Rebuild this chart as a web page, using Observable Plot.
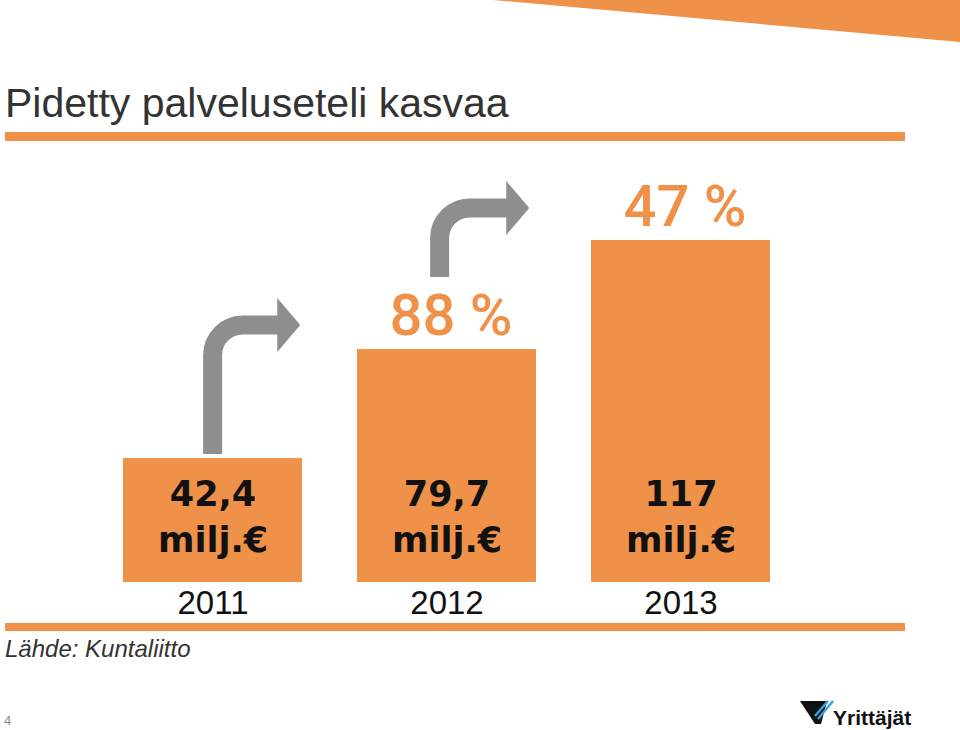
<!DOCTYPE html>
<html><head><meta charset="utf-8">
<script src="https://cdn.jsdelivr.net/npm/d3@7"></script>
<script src="https://cdn.jsdelivr.net/npm/@observablehq/plot@0.6"></script>
<style>
body{margin:0;background:#fff;}
#page{position:relative;width:960px;height:730px;overflow:hidden;}
#chart{position:absolute;left:0;top:0;}
#deco{position:absolute;left:0;top:0;}
</style></head><body>
<div id="page">
<svg id="deco" width="960" height="730" font-family="Liberation Sans, Arial, sans-serif">
  <polygon points="493,0 960,0 960,42" fill="#f0914a"/>
  <text x="5" y="117" font-size="41" fill="#333">Pidetty palveluseteli kasvaa</text>
  <rect x="5" y="132" width="900" height="9" fill="#f0914a"/>
  <rect x="5" y="623" width="900" height="8" fill="#f0914a"/>
  <text x="5" y="657" font-size="24" font-style="italic" fill="#333">Lähde: Kuntaliitto</text>
  <text x="4" y="725" font-size="13" fill="#888">4</text>
  <polygon points="800,701 827,701 821,724 815,724" fill="#111"/>
  <line x1="833" y1="701" x2="818" y2="719" stroke="#3aa0d8" stroke-width="2.5"/>
  <line x1="828" y1="701" x2="815" y2="716" stroke="#3aa0d8" stroke-width="2.5"/>
  <text x="833" y="725" font-size="21" font-weight="bold" fill="#111">Yrittäjät</text>
</svg>
<div id="chart"></div>
</div>
<script>
const years = ["2011", "2012", "2013"];
const values = [42.4, 79.7, 117];
const valueLabels = ["42,4", "79,7", "117"];
const unitLabel = "milj.€";
const growthYears = ["2012", "2013"];
const growthLabels = ["88 %", "47 %"];

const orange = "#f0914a";
const gray = "#8e8e8e";

const bars = years.map((y, i) => ({year: y, value: values[i], label: valueLabels[i] + "\n" + unitLabel}));
const growth = growthYears.map((y, i) => ({year: y, value: values[years.indexOf(y)], label: growthLabels[i]}));

const padInner = 0.234;
// arrow styling offsets (pixels) relative to bar i
const arrowStyle = [
  {dxShaft: 0, bottomOff: 4, cyOff: 133, tipOff: 2},
  {dxShaft: -7, bottomOff: 72, cyOff: 141, tipOff: 7}
];

function arrowsMark(index, scales) {
  const {x, y} = scales;
  const step = x(years[1]) - x(years[0]);
  const bw = step * (1 - padInner);
  const g = d3.create("svg:g");
  for (let i = 0; i < years.length - 1; i++) {
    const s = arrowStyle[i];
    const left = x(years[i]);
    const top = y(values[i]);
    const sx = left + bw / 2 + s.dxShaft;
    const bottom = top - s.bottomOff;
    const cy = top - s.cyOff;
    const tip = left + bw - s.tipOff;
    const headStart = tip - 23;
    const r = 30;
    g.append("path")
      .attr("d", `M${sx},${bottom}L${sx},${cy + r}A${r},${r} 0 0 1 ${sx + r},${cy}L${headStart + 1},${cy}`)
      .attr("fill", "none").attr("stroke", gray).attr("stroke-width", 19);
    g.append("path")
      .attr("d", `M${headStart},${cy - 27}L${tip},${cy}L${headStart},${cy + 27}Z`)
      .attr("fill", gray);
  }
  return g.node();
}

const chart = Plot.plot({
  width: 960,
  height: 730,
  marginTop: 240,
  marginBottom: 148,
  marginLeft: 122,
  marginRight: 188,
  style: {fontFamily: "Liberation Sans, Arial, sans-serif", background: "transparent", color: "#111"},
  x: {domain: years, paddingInner: padInner, paddingOuter: 0},
  y: {domain: [0, 117], axis: null},
  marks: [
    Plot.barY(bars, {x: "year", y: "value", fill: orange}),
    Plot.text(bars, {x: "year", y: () => 0, text: "label", dy: -68, lineHeight: 1.3, fontSize: 35, fontWeight: "bold", fontFamily: "DejaVu Sans, sans-serif", fill: "#111"}),
    Plot.text(growth, {x: "year", y: "value", text: "label", lineAnchor: "bottom", dy: -15, dx: 4, fontSize: 58, fontWeight: 500, fontFamily: "Roboto, sans-serif", fill: orange, clip: false}),
    arrowsMark,
    Plot.axisX({tickSize: 0, tickPadding: 8, fontSize: 33, fill: "#111", label: null})
  ]
});
document.getElementById("chart").appendChild(chart);
</script>
</body></html>
